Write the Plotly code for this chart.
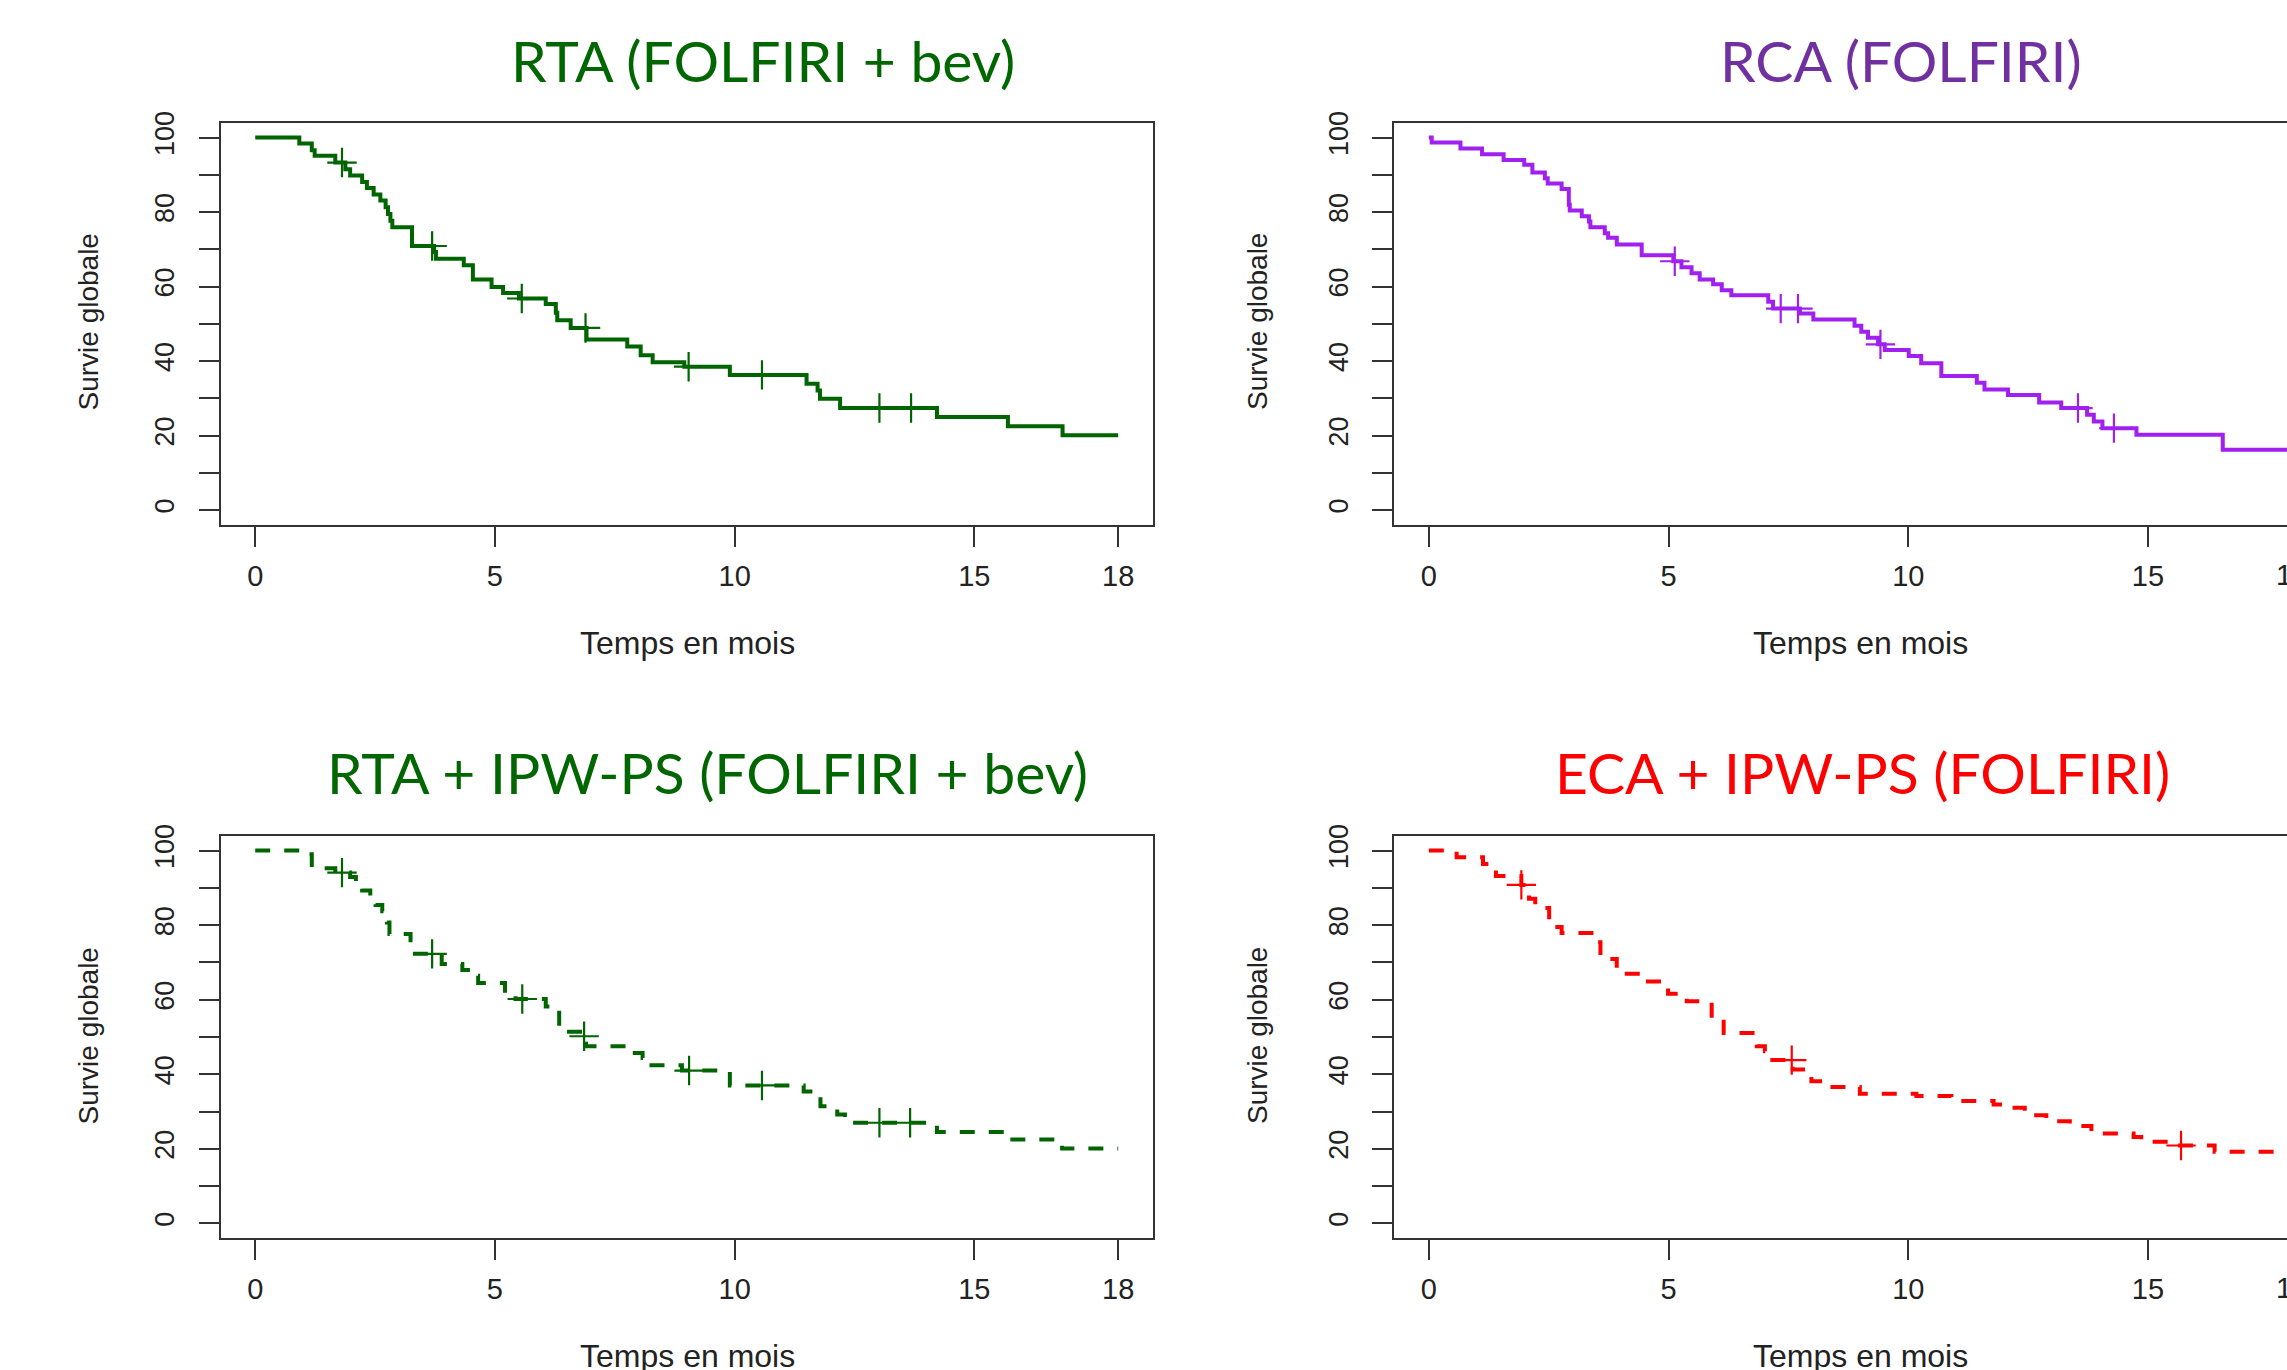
import plotly.graph_objects as go

W, H = 2287, 1370

# ---------------- data ----------------
# RTA (FOLFIRI + bev) - solid dark green
rta_t = [0, 0.92, 1.18, 1.24, 1.67, 1.88, 1.98, 2.23, 2.33, 2.47, 2.61, 2.72, 2.77, 2.82, 2.86,
         3.27, 3.73, 3.77, 4.35, 4.54, 4.93, 5.17, 5.50, 6.06, 6.27, 6.30, 6.58, 6.91, 7.76, 8.04,
         8.29, 8.95, 9.90, 11.50, 11.73, 11.78, 12.20, 14.22, 15.70, 16.84, 18.0]
rta_s = [100, 98.4, 96.6, 95.1, 93.3, 91.5, 89.8, 88.1, 86.5, 84.7, 83.1, 81.3, 79.5, 77.7, 75.9,
         70.9, 69.3, 67.5, 65.7, 61.9, 59.9, 58.3, 56.8, 55.3, 53.0, 51.0, 48.9, 45.8, 43.9, 41.6,
         39.7, 38.5, 36.3, 33.9, 32.1, 29.9, 27.4, 25.0, 22.5, 20.1, 20.1]
rta_cens_t = [1.81, 3.69, 5.56, 6.89, 9.04, 10.57, 13.02, 13.68]
rta_cens_s = [93.3, 70.9, 56.8, 48.9, 38.5, 36.3, 27.4, 27.4]

# RCA (FOLFIRI) - solid purple
rca_t = [0, 0.06, 0.66, 1.11, 1.56, 1.99, 2.16, 2.42, 2.48, 2.77, 2.92, 2.94, 3.19, 3.34, 3.37,
         3.67, 3.74, 3.92, 4.44, 5.10, 5.27, 5.48, 5.65, 5.93, 6.11, 6.31, 7.08, 7.18, 7.74, 8.02,
         8.88, 9.02, 9.16, 9.37, 9.51, 10.01, 10.27, 10.69, 11.43, 11.59, 12.08, 12.73, 13.19,
         13.73, 13.87, 14.05, 14.76, 16.56, 18.0]
rca_s = [100, 98.7, 97.1, 95.5, 94.0, 92.7, 90.6, 89.1, 87.7, 86.2, 82.0, 80.4, 78.9, 77.5, 75.9,
         74.3, 73.1, 71.3, 68.4, 66.8, 65.2, 63.6, 61.9, 60.6, 59.0, 57.7, 55.9, 54.1, 52.8, 51.2,
         49.5, 47.9, 46.3, 44.5, 43.0, 41.4, 39.4, 36.0, 34.2, 32.4, 30.9, 28.9, 27.4,
         25.6, 23.8, 22.0, 20.2, 16.2, 16.2]
rca_cens_t = [5.13, 7.34, 7.70, 9.42, 13.54, 14.29]
rca_cens_s = [66.8, 54.1, 54.1, 44.5, 27.4, 22.0]

# RTA + IPW-PS (FOLFIRI + bev) - dashed dark green
ipw_t = [0, 0.97, 1.18, 1.67, 1.98, 2.10, 2.23, 2.40, 2.51, 2.65, 2.75, 2.80, 3.24, 3.89, 4.32,
         4.56, 4.65, 5.21, 5.43, 6.06, 6.34, 6.48, 6.82, 6.90, 7.87, 8.08, 8.20, 8.90, 9.90,
         11.44, 11.79, 12.14, 12.30, 14.22, 15.68, 16.83, 18.0]
ipw_s = [100, 99.0, 95.3, 94.1, 92.9, 91.0, 89.3, 87.5, 85.4, 83.7, 80.7, 77.6, 72.3, 69.6, 68.0,
         66.4, 64.5, 61.6, 60.2, 58.2, 53.0, 51.4, 50.2, 47.5, 45.7, 44.4, 42.4, 41.0, 37.0,
         35.4, 31.4, 29.2, 27.0, 24.5, 22.5, 20.1, 20.1]
ipw_cens_t = [1.81, 3.69, 5.57, 6.86, 9.05, 10.57, 13.02, 13.66]
ipw_cens_s = [94.1, 72.3, 60.2, 50.2, 41.0, 37.0, 27.0, 27.0]

# ECA + IPW-PS (FOLFIRI) - dashed red
eca_t = [0, 0.58, 1.13, 1.40, 1.93, 2.09, 2.22, 2.51, 2.68, 2.77, 3.46, 3.58, 3.92, 4.42, 4.89,
         4.99, 5.38, 5.90, 6.15, 6.84, 7.01, 7.08, 7.59, 7.98, 8.26, 8.99, 10.17, 10.90, 11.78,
         12.15, 12.43, 12.88, 13.37, 13.82, 14.70, 14.86, 15.42, 16.39, 18.0]
eca_s = [100, 98.2, 96.4, 93.2, 90.8, 87.1, 84.6, 81.0, 79.5, 77.9, 75.4, 70.9, 67.0, 64.9, 63.6,
         61.6, 59.6, 54.8, 51.1, 47.5, 46.2, 43.8, 41.3, 38.1, 36.6, 34.8, 34.2, 32.8, 31.9,
         31.0, 29.0, 27.4, 26.1, 24.1, 23.2, 21.9, 20.9, 19.2, 19.2]
eca_cens_t = [1.93, 7.57, 15.69]
eca_cens_s = [90.8, 43.8, 20.9]

titles = ["RTA (FOLFIRI + bev)", "RCA (FOLFIRI)",
          "RTA + IPW-PS (FOLFIRI + bev)", "ECA + IPW-PS (FOLFIRI)"]
x_title = "Temps en mois"
y_title = "Survie globale"
x_ticks = [0, 5, 10, 15, 18]
y_ticks = [0, 10, 20, 30, 40, 50, 60, 70, 80, 90, 100]
y_ticktext = ["0", "", "20", "", "40", "", "60", "", "80", "", "100"]

# ---------------- styling ----------------
GREEN = "#006400"
PURPLE = "#A020F0"
RED = "#FF0000"
AXC = "#333333"
TICKFONT = "Liberation Sans, Arial, sans-serif"
TITLEFONT = "Lato, Open Sans, sans-serif"


def px(x):
    return x / W


def py(y):
    return 1 - y / H


fig = go.Figure()

panels = [
    (rta_t, rta_s, rta_cens_t, rta_cens_s, GREEN, "solid", "x", "y"),
    (rca_t, rca_s, rca_cens_t, rca_cens_s, PURPLE, "solid", "x2", "y2"),
    (ipw_t, ipw_s, ipw_cens_t, ipw_cens_s, GREEN, "15px,14px", "x3", "y3"),
    (eca_t, eca_s, eca_cens_t, eca_cens_s, RED, "15px,14px", "x4", "y4"),
]
for t, s, ct, cs, col, dash, xa, ya in panels:
    fig.add_trace(go.Scatter(x=t, y=s, mode="lines", line=dict(color=col, width=4, dash=dash, shape="hv"),
                             xaxis=xa, yaxis=ya, showlegend=False, hoverinfo="skip"))
    fig.add_trace(go.Scatter(x=ct, y=cs, mode="markers",
                             marker=dict(symbol="cross-thin", size=21, line=dict(color=col, width=2.2)),
                             xaxis=xa, yaxis=ya, showlegend=False, hoverinfo="skip"))

# pixel geometry of the four plot boxes
left_x = [220.7, 1152.7]
right_x = [1394.3, W]
top_y = [122.7, 525.0]
bot_y = [835.7, 1238.3]
xr_left = [-0.72, 18.72]
xr_right = [-0.72, 17.90]
yr = [-4, 104]


def xaxis(dom, rng):
    return dict(domain=[px(dom[0]), px(dom[1])], range=rng, showline=True, linecolor=AXC, linewidth=2,
                mirror=True, showgrid=False, zeroline=False, ticks="outside", ticklen=20, tickwidth=2,
                tickcolor=AXC, tickvals=x_ticks, tickfont=dict(family=TICKFONT, size=29, color="#222"),
                ticklabelstandoff=4, fixedrange=True, automargin=False)


def yaxis(dom, anchor, mirror):
    return dict(domain=[py(dom[1]), py(dom[0])], range=yr, anchor=anchor, showline=True, linecolor=AXC,
                linewidth=2, mirror=mirror, showgrid=False, zeroline=False, ticks="outside", ticklen=20,
                tickwidth=2, tickcolor=AXC, tickvals=y_ticks, ticktext=y_ticktext, tickangle=-90,
                tickfont=dict(family=TICKFONT, size=27, color="#222"), ticklabelstandoff=14,
                fixedrange=True, automargin=False)


fig.update_layout(
    width=W, height=H, margin=dict(l=0, r=0, t=0, b=0, autoexpand=False),
    paper_bgcolor="white", plot_bgcolor="white",
    xaxis=dict(xaxis(left_x, xr_left), anchor="y"),
    yaxis=yaxis(top_y, "x", True),
    xaxis2=dict(xaxis(right_x, xr_right), anchor="y2"),
    yaxis2=yaxis(top_y, "x2", False),
    xaxis3=dict(xaxis(left_x, xr_left), anchor="y3"),
    yaxis3=yaxis(bot_y, "x3", True),
    xaxis4=dict(xaxis(right_x, xr_right), anchor="y4"),
    yaxis4=yaxis(bot_y, "x4", False),
)

ann = []
title_pos = [(763, 60, "#006600"), (1901, 60, "#7030A0"), (707, 772, "#006600"), (1862, 772, "#FF0000")]
for txt, (x, y, c) in zip(titles, title_pos):
    ann.append(dict(text=txt, x=px(x), y=py(y), xref="paper", yref="paper", showarrow=False,
                    xanchor="center", yanchor="middle", font=dict(family=TITLEFONT, size=57, color=c)))
for x, y in [(687, 643), (1860, 643), (687, 1356), (1860, 1356)]:
    ann.append(dict(text=x_title, x=px(x), y=py(y), xref="paper", yref="paper", showarrow=False,
                    xanchor="center", yanchor="middle", font=dict(family=TICKFONT, size=32, color="#222")))
for x, y in [(87.5, 322), (1257, 322), (87.5, 1036), (1257, 1036)]:
    ann.append(dict(text=y_title, x=px(x), y=py(y), xref="paper", yref="paper", showarrow=False,
                    textangle=-90, xanchor="center", yanchor="middle",
                    font=dict(family=TICKFONT, size=28, color="#222")))
# the "18" tick label of the right-hand panels sits on the image edge and is cut off
x18 = 1428.8 + 18 * 47.94
for y in [575, 1288]:
    ann.append(dict(text="18", x=px(x18), y=py(y), xref="paper", yref="paper", showarrow=False,
                    xanchor="center", yanchor="middle", font=dict(family=TICKFONT, size=29, color="#222")))
fig.update_layout(annotations=ann)

fig.write_html("out.html", config={"displayModeBar": False},
               post_script="document.body.style.margin='0px';document.body.style.overflow='hidden';")
